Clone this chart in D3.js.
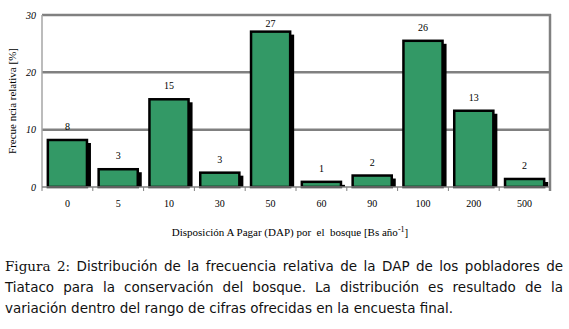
<!DOCTYPE html>
<html>
<head>
<meta charset="utf-8">
<script src="https://cdn.jsdelivr.net/npm/d3@7"></script>
<style>
  body { margin: 0; background: #fff; }
  svg { display: block; }
</style>
</head>
<body>
<svg width="569" height="329"></svg>
<script>
// categories on the x axis (Bs / year)
var categories = ['0', '5', '10', '30', '50', '60', '90', '100', '200', '500'];
// bar heights (%)
var frecuencia = [8.2, 3.1, 15.3, 2.5, 27.1, 0.9, 2.0, 25.5, 13.3, 1.4];
// labels printed above the bars
var etiquetas = ['8', '3', '15', '3', '27', '1', '2', '26', '13', '2'];
var yTicks = [0, 10, 20, 30];

var captionLines = [
  [{t: 'Figura 2: ', serif: true}, {t: 'Distribución de la frecuencia relativa de la DAP de los pobladores de'}],
  [{t: 'Tiataco para la conservación del bosque. La distribución es resultado de la'}],
  [{t: 'variación dentro del rango de cifras ofrecidas en la encuesta final.'}]
];

var svg = d3.select('svg');
var plotLeft = 42, plotRight = 550, plotTop = 15, plotBottom = 187;

var x = d3.scaleBand()
  .domain(categories)
  .range([plotLeft, plotRight])
  .paddingInner(0.23)
  .paddingOuter(0.115);

var y = d3.scaleLinear()
  .domain([0, 30])
  .range([plotBottom, plotTop]);

// grid lines (30 is the top frame)
svg.selectAll('line.grid')
  .data(yTicks.filter(d => d > 0))
  .enter().append('line')
  .attr('class', 'grid')
  .attr('x1', plotLeft).attr('x2', plotRight + 1)
  .attr('y1', d => y(d)).attr('y2', d => y(d))
  .attr('stroke', '#808080')
  .attr('stroke-width', 2.5);

// right frame
svg.append('line')
  .attr('x1', plotRight).attr('x2', plotRight)
  .attr('y1', plotTop - 1).attr('y2', plotBottom + 4)
  .attr('stroke', '#808080')
  .attr('stroke-width', 2.5);

// left axis
svg.append('line')
  .attr('x1', plotLeft).attr('x2', plotLeft)
  .attr('y1', plotTop).attr('y2', plotBottom)
  .attr('stroke', '#a6a6a6')
  .attr('stroke-width', 1.5);

svg.selectAll('text.ytick')
  .data(yTicks)
  .enter().append('text')
  .attr('class', 'ytick')
  .attr('x', 36)
  .attr('y', d => y(d) + 3.5)
  .attr('text-anchor', 'end')
  .attr('font-family', 'Liberation Serif')
  .attr('font-style', 'italic')
  .attr('font-size', '10px')
  .text(d => d);

// bars: black drop shadow then outlined green bar
var bars = svg.selectAll('g.bar')
  .data(categories)
  .enter().append('g')
  .attr('class', 'bar');

bars.append('rect')
  .attr('x', d => x(d) + 4)
  .attr('y', (d, i) => y(frecuencia[i]) + 3)
  .attr('width', x.bandwidth())
  .attr('height', (d, i) => Math.max(0, plotBottom - y(frecuencia[i]) - 3))
  .attr('fill', '#000');

bars.append('rect')
  .attr('x', d => x(d))
  .attr('y', (d, i) => y(frecuencia[i]))
  .attr('width', x.bandwidth())
  .attr('height', (d, i) => plotBottom - y(frecuencia[i]))
  .attr('fill', '#339966')
  .attr('stroke', '#000')
  .attr('stroke-width', 2.5);

bars.append('text')
  .attr('x', d => x(d) + x.bandwidth() / 2)
  .attr('y', (d, i) => Math.max(y(frecuencia[i]) - 10, 27))
  .attr('text-anchor', 'middle')
  .attr('font-family', 'Liberation Serif')
  .attr('font-size', '10px')
  .text((d, i) => etiquetas[i]);

// bottom axis with ticks between categories
svg.append('line')
  .attr('x1', plotLeft).attr('x2', plotRight)
  .attr('y1', plotBottom).attr('y2', plotBottom)
  .attr('stroke', '#808080')
  .attr('stroke-width', 1.5);

var bounds = d3.range(categories.length + 1).map(i => plotLeft + i * x.step());
svg.selectAll('line.xtick')
  .data(bounds)
  .enter().append('line')
  .attr('class', 'xtick')
  .attr('x1', d => d).attr('x2', d => d)
  .attr('y1', plotBottom).attr('y2', plotBottom + 4)
  .attr('stroke', '#808080')
  .attr('stroke-width', 1);

svg.selectAll('text.xlab')
  .data(categories)
  .enter().append('text')
  .attr('class', 'xlab')
  .attr('x', d => x(d) + x.bandwidth() / 2)
  .attr('y', 207)
  .attr('text-anchor', 'middle')
  .attr('font-family', 'Liberation Serif')
  .attr('font-size', '10px')
  .text(d => d);

// axis titles
svg.append('text')
  .attr('transform', 'translate(16,101) rotate(-90)')
  .attr('text-anchor', 'middle')
  .attr('font-family', 'Liberation Serif')
  .attr('font-size', '11px')
  .text('Frecue ncia relativa [%]');

var xt = svg.append('text')
  .attr('x', 290)
  .attr('y', 236)
  .attr('text-anchor', 'middle')
  .attr('font-family', 'Liberation Serif')
  .attr('font-size', '11px');
xt.append('tspan').attr('xml:space', 'preserve').text('Disposición A Pagar (DAP) por  el  bosque [Bs año');
xt.append('tspan').attr('font-size', '8px').attr('dy', -4).text('-1');
xt.append('tspan').attr('dy', 4).text(']');

// caption, first two lines justified
var capLeft = 5, capRight = 563;
captionLines.forEach(function (line, i) {
  var t = svg.append('text')
    .attr('x', capLeft)
    .attr('y', 271 + i * 21)
    .attr('font-family', 'DejaVu Sans')
    .attr('font-size', '13.5px')
    .attr('fill', '#111');
  line.forEach(function (p) {
    var s = t.append('tspan').text(p.t);
    if (p.serif) s.attr('font-family', 'DejaVu Serif').attr('font-size', '13.5px');
  });
  if (i < captionLines.length - 1) {
    var full = line.map(p => p.t).join('');
    var spaces = (full.trim().match(/ /g) || []).length;
    var w = t.node().getComputedTextLength();
    t.attr('word-spacing', (capRight - capLeft - w) / spaces);
  }
});
</script>
</body>
</html>
